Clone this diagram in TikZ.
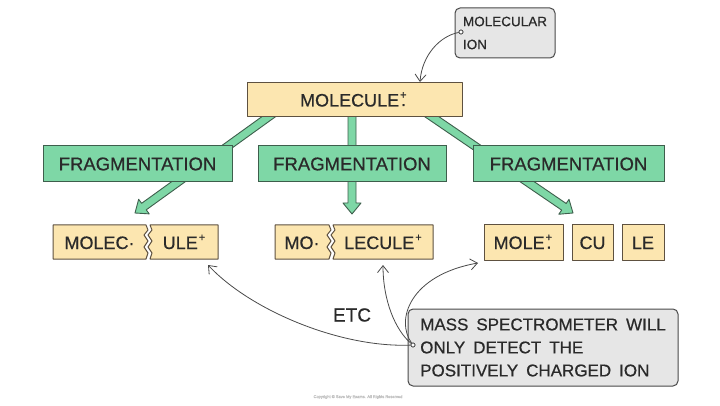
\documentclass[tikz,border=0pt]{standalone}
\usepackage{fontspec}
\setmainfont{Liberation Sans}[FakeBold=0.6]
\usetikzlibrary{calc,arrows.meta}
\definecolor{yfill}{HTML}{FCE6B0}
\definecolor{yline}{HTML}{5E5140}
\definecolor{gfill}{HTML}{7ED7A6}
\definecolor{gline}{HTML}{3E5E4C}
\definecolor{cfill}{HTML}{E6E6E6}
\definecolor{cline}{HTML}{4A4A4A}
\definecolor{txt}{HTML}{2A2A2A}
\newcommand\rcat{\kern1pt\rlap{\raisebox{8pt}{\fontsize{11}{11}\selectfont +}}\kern0.8pt\raisebox{0.5pt}{.}\kern2pt}
\newcommand\supp{\kern1pt\raisebox{8pt}{\fontsize{11}{11}\selectfont +}}
\newcommand\widespaces{\spaceskip=8pt plus 1pt\relax}
\tikzset{
  every node/.style={text=txt},
  big/.style={font=\fontsize{18}{20}\selectfont},
  ypiece/.style={fill=yfill, draw=yline, line width=1pt, line join=round},
  ybox/.style={ypiece, inner sep=0pt},
  gbox/.style={fill=gfill, draw=gline, line width=1pt, inner sep=0pt, minimum height=36pt, font=\fontsize{18.5}{20}\selectfont},
  fatarr/.style={fill=gfill, draw=gline, line width=0.9pt, line join=round},
  callbox/.style={fill=cfill, draw=cline, line width=1pt, rounded corners=5pt},
  thinarr/.style={draw=cline, line width=0.8pt, -{Straight Barb[length=7pt,width=11pt]}},
  dotn/.style={circle, draw=cline, fill=white, line width=0.7pt, inner sep=0pt, minimum size=4pt}
}
\newcommand\fatarrow[2]{%
  \path ($(#2)!11pt!(#1)$) coordinate (fah);
  \filldraw[fatarr] ($(#1)!4pt!90:(#2)$) -- ($(fah)!4pt!-90:(#1)$) -- ($(fah)!9pt!-90:(#1)$) -- (#2)
    -- ($(fah)!9pt!90:(#1)$) -- ($(fah)!4pt!90:(#1)$) -- ($(#1)!4pt!-90:(#2)$) -- cycle;}
\newcommand\jagpair[3]{%
  \filldraw[ypiece] (#1,225) -- (#2,225) -- ++(2,5) -- ++(-4,5) -- ++(4,6) -- ++(-4,6) -- ++(4,6) -- ++(-2,6) -- (#1,259) -- cycle;
  \filldraw[ypiece] ({#2+4},225) -- (#3,225) -- (#3,259) -- ({#2+4},259) -- ++(2,-6) -- ++(-4,-6) -- ++(4,-6) -- ++(-4,-6) -- ++(4,-5) -- ++(-2,-5) -- cycle;}
\begin{document}
\begin{tikzpicture}[x=1pt,y=-1pt]
\fill[white] (0,0) rectangle (720,406);
\useasboundingbox (0,0) rectangle (720,406);

% fat green arrows (behind boxes)
\coordinate (s1) at (278,110); \coordinate (e1) at (135,213);
\coordinate (s2) at (352,110); \coordinate (e2) at (352,214);
\coordinate (s3) at (422,110); \coordinate (e3) at (573,213);
\fatarrow{s1}{e1}
\fatarrow{s2}{e2}
\fatarrow{s3}{e3}

% molecule box
\node[ybox, minimum width=215pt, minimum height=34pt] (mol) at (354.5,100) {};
\node[big, anchor=base] (molt) at (354,106.5) {MOLECULE\rcat};

% fragmentation boxes
\node[gbox, minimum width=189pt] (f1) at (137.5,164) {FRAGMENTATION};
\node[gbox, minimum width=188pt] (f2) at (352,164) {FRAGMENTATION};
\node[gbox, minimum width=191pt] (f3) at (568.5,164) {FRAGMENTATION};

% bottom row
\jagpair{53}{146}{218}
\jagpair{275}{329}{433}
\node[ybox, minimum width=79pt, minimum height=35pt] (b1) at (523.5,242.5) {};
\node[ybox, minimum width=41pt, minimum height=35pt] (b2) at (592.5,242.5) {};
\node[ybox, minimum width=42pt, minimum height=35pt] (b3) at (643,242.5) {};
\node[big, anchor=base] (tA) at (99.5,249) {MOLEC·};
\node[big, anchor=base] (tB) at (184,249) {ULE\supp};
\node[big, anchor=base] (tC) at (302,249) {MO·};
\node[big, anchor=base] (tD) at (383,249) {LECULE\supp};
\node[big, anchor=base] (tE) at (523.5,249) {MOLE\rcat};
\node[big, anchor=base] (tF) at (592.5,249) {CU};
\node[big, anchor=base] (tG) at (643,249) {LE};

% ETC
\node[font=\fontsize{19}{20}\selectfont] (etc) at (352,315) {ETC};

% callouts
\node[callbox, minimum width=100pt, minimum height=50pt, align=left, font=\fontsize{13.5}{23}\selectfont] (mi) at (505,33) {MOLECULAR\\ION};
\node[callbox, minimum width=270pt, minimum height=77pt, align=left, font=\fontsize{17}{23}\selectfont\widespaces] (ms) at (543,347.5) {MASS SPECTROMETER WILL\\ONLY DETECT THE\\POSITIVELY CHARGED ION};

% thin curved arrows
\node[dotn] (d1) at (461,32) {};
\node[dotn] (d2) at (413,345) {};
\coordinate (m1) at (420,82);
\coordinate (u1) at (208,265);
\coordinate (u2) at (383,265);
\coordinate (u3) at (478,263);
\draw[thinarr] (d1) .. controls (440,36) and (422,55) .. (m1);
\draw[thinarr] (d2) .. controls (340,348) and (250,310) .. (u1);
\draw[thinarr] (d2) .. controls (395,330) and (383,300) .. (u2);
\draw[thinarr] (d2) .. controls (395,320) and (410,275) .. (u3);
\node[dotn] at (d2) {};
\node[dotn] at (d1) {};

% copyright
\node[font=\fontsize{4}{5}\selectfont, text=black!25] (cr) at (358,397) {Copyright © Save My Exams. All Rights Reserved};
\end{tikzpicture}
\end{document}
